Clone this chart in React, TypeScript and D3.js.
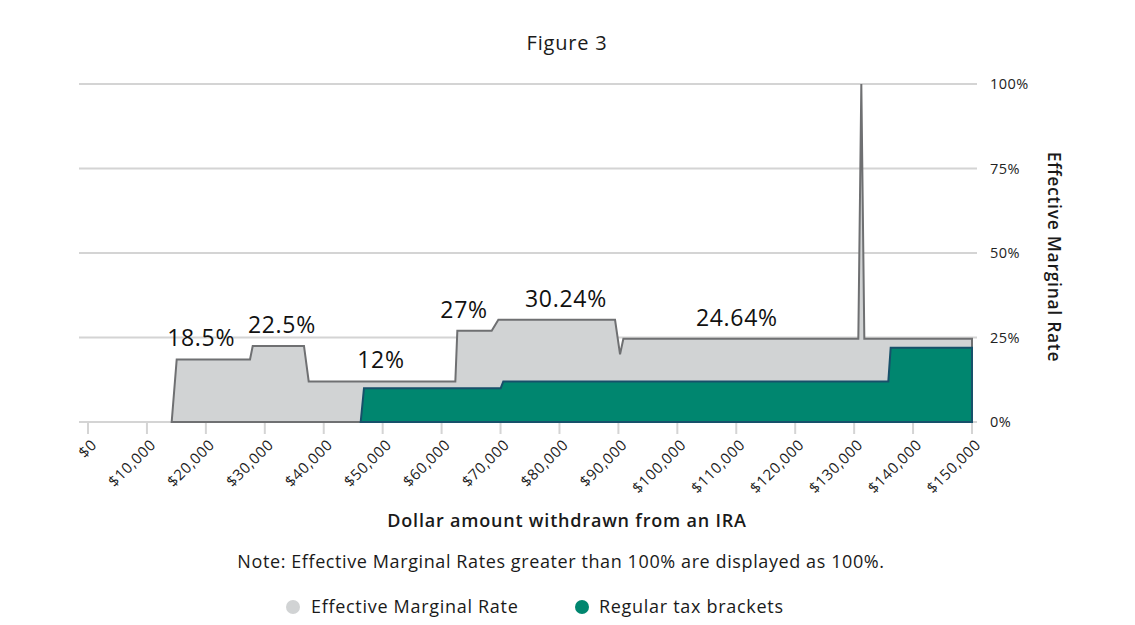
import React from "react";
import * as d3 from "d3";

// ---- Data ----
const emrDollars = [14200, 15050, 27490, 27950, 36650, 37450, 62330, 62670, 68500, 69630, 89430, 90280, 90840, 130710, 131220, 131730, 150000];
const emrRates = [0, 18.5, 18.5, 22.5, 22.5, 12, 12, 27, 27, 30.24, 30.24, 20, 24.64, 24.64, 100, 24.64, 24.64];

const bracketDollars = [46270, 46830, 70030, 70470, 135800, 136200, 150000];
const bracketRates = [0, 10, 10, 12, 12, 22, 22];

const labelTexts = ["18.5%", "22.5%", "12%", "27%", "30.24%", "24.64%"];
const labelDollars = [19200, 32900, 49700, 63800, 81100, 110100];
const labelRates = [18.5, 22.5, 12, 27, 30.24, 24.64];

const xTicks = d3.range(0, 150001, 10000);
const yTicks = [0, 25, 50, 75, 100];

const titleText = "Figure 3";
const xTitle = "Dollar amount withdrawn from an IRA";
const yTitle = "Effective Marginal Rate";
const noteText = "Note: Effective Marginal Rates greater than 100% are displayed as 100%.";
const legendNames = ["Effective Marginal Rate", "Regular tax brackets"];

// ---- Styles ----
const W = 1135;
const H = 625;
const FONT = "'Open Sans', 'Noto Sans', sans-serif";
const GRAY_FILL = "#d1d3d4";
const GRAY_STROKE = "#6f7072";
const TEAL_FILL = "#00866f";
const TEAL_STROKE = "#17506a";
const GRID = "#d4d4d4";
const INK = "#1a1a1a";

export default function App() {
  const x = d3.scaleLinear().domain([0, 150000]).range([88, 972]);
  const y = d3.scaleLinear().domain([0, 100]).range([422, 84]);

  const emrData = emrDollars.map((d, i) => [d, emrRates[i]] as [number, number]);
  const brData = bracketDollars.map((d, i) => [d, bracketRates[i]] as [number, number]);

  const area = d3
    .area<[number, number]>()
    .x((d) => x(d[0]))
    .y0(y(0))
    .y1((d) => y(d[1]));

  const fmt = (v: number) => "$" + d3.format(",")(v);

  return (
    <div style={{ position: "absolute", left: 0, top: 0 }}>
      <svg width={W} height={H} style={{ display: "block", fontFamily: FONT }}>
        <rect width={W} height={H} fill="#fff" />
        <text x={567} y={50} textAnchor="middle" fontSize={20} fontWeight={500} letterSpacing={0.8} fill={INK}>
          {titleText}
        </text>

        {/* grid */}
        {yTicks.map((t) => (
          <g key={t}>
            <line x1={79} x2={977} y1={y(t)} y2={y(t)} stroke={GRID} strokeWidth={2} />
            <text x={990} y={y(t)} dy="0.35em" fontSize={14.5} letterSpacing={0.5} fill="#222">
              {t + "%"}
            </text>
          </g>
        ))}

        {/* x ticks */}
        {xTicks.map((t) => (
          <g key={t}>
            <line x1={x(t)} x2={x(t)} y1={y(0)} y2={y(0) + 12} stroke={GRID} strokeWidth={2} />
            <text
              transform={`translate(${x(t) + 6},${y(0) + 20}) rotate(-45)`}
              textAnchor="end"
              dy="0.35em"
              fontSize={15}
              letterSpacing={0.6}
              fill="#222"
            >
              {fmt(t)}
            </text>
          </g>
        ))}

        {/* areas */}
        <path d={area(emrData) + "Z"} fill={GRAY_FILL} stroke={GRAY_STROKE} strokeWidth={2} strokeLinejoin="miter" />
        <path d={area(brData) + "Z"} fill={TEAL_FILL} stroke={TEAL_STROKE} strokeWidth={2} />

        {/* labels */}
        {labelTexts.map((t, i) => (
          <text
            key={t}
            x={x(labelDollars[i])}
            y={y(labelRates[i]) - 13}
            textAnchor="middle"
            fontSize={23}
            letterSpacing={0.7}
            fill="#111"
          >
            {t}
          </text>
        ))}

        {/* y title */}
        <text
          transform={`translate(1055,257) rotate(90)`}
          textAnchor="middle"
          dominantBaseline="central"
          fontSize={17.5}
          fontWeight={600}
          letterSpacing={0.7}
          fill={INK}
        >
          {yTitle}
        </text>

        {/* x title */}
        <text x={567} y={527} textAnchor="middle" fontSize={18} fontWeight={600} letterSpacing={0.8} fill={INK}>
          {xTitle}
        </text>

        <text x={561} y={568} textAnchor="middle" fontSize={18} letterSpacing={0.6} fill={INK}>
          {noteText}
        </text>

        {/* legend */}
        <circle cx={293} cy={607} r={7} fill={GRAY_FILL} />
        <text x={311} y={613} fontSize={18} letterSpacing={0.7} fill={INK}>
          {legendNames[0]}
        </text>
        <circle cx={582} cy={607} r={7} fill={TEAL_FILL} />
        <text x={599} y={613} fontSize={18} letterSpacing={0.7} fill={INK}>
          {legendNames[1]}
        </text>
      </svg>
    </div>
  );
}
